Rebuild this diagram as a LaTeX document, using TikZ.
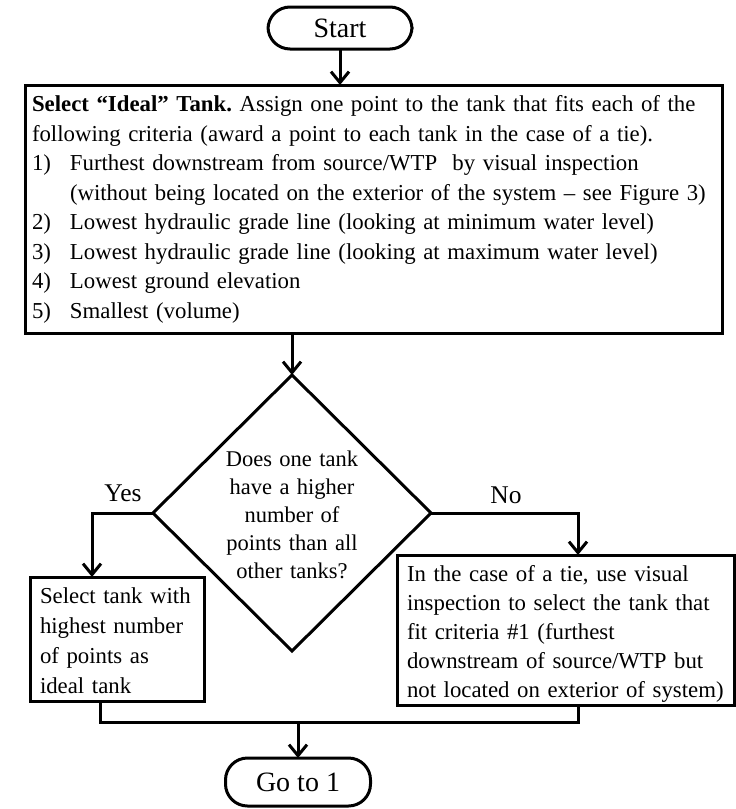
\documentclass[tikz,border=0pt]{standalone}
\usepackage{fontspec}
\setmainfont{Liberation Serif}
\usetikzlibrary{arrows.meta,shapes.geometric}
\frenchspacing
\begin{document}
\begin{tikzpicture}[x=1pt,y=-1pt,
  every node/.style={inner sep=0pt,outer sep=0pt},
  flowline/.style={line width=3pt},
  flowarrow/.style={flowline,-{Straight Barb[length=11pt,width=18pt]}},
  terminal/.style={draw,line width=3pt,rounded corners=22pt,minimum width=144pt,
    font=\fontsize{28}{32}\selectfont},
  framebox/.style={draw,line width=3pt,anchor=north west},
  boxtext/.style={anchor=north west,align=left},
  decision/.style={draw,line width=3pt,diamond,aspect=1},
  branchlabel/.style={font=\fontsize{25.5}{30}\selectfont}]
\useasboundingbox (0,0) rectangle (736,809);

% start terminal
\node[terminal,minimum height=42pt] (start) at (340,28) {Start};

% scoring box: frame and its text
\node[framebox,minimum width=697pt,minimum height=248pt] (select) at (25,85) {};
\node[boxtext,text width=700pt,font=\fontsize{22.8}{29.5}\selectfont] (selecttext) at (32,90.85) {%
  \strut\textbf{Select “Ideal” Tank.} Assign one point to the tank that fits each of the\\
  following criteria (award a point to each tank in the case of a tie).\\
  \makebox[38pt][l]{1)}Furthest downstream from source/WTP\ \ by visual inspection\\
  \hspace*{38pt}(without being located on the exterior of the system -- see Figure 3)\\
  \makebox[38pt][l]{2)}Lowest hydraulic grade line (looking at minimum water level)\\
  \makebox[38pt][l]{3)}Lowest hydraulic grade line (looking at maximum water level)\\
  \makebox[38pt][l]{4)}Lowest ground elevation\\
  \makebox[38pt][l]{5)}Smallest (volume)};

% decision
\node[decision,minimum width=278pt,minimum height=276pt] (dec) at (292,513) {};
\node[anchor=north,align=center,text width=180pt,font=\fontsize{22.5}{27.8}\selectfont]
  (dectext) at (292,447.5)
  {\strut Does one tank\\have a higher\\number of\\points than all\\other tanks?};

% outcome boxes
\node[framebox,minimum width=174pt,minimum height=124pt] (yesbox) at (30,577) {};
\node[boxtext,text width=170pt,font=\fontsize{22.8}{30}\selectfont] (yestext) at (40,582)
  {\strut Select tank with\\highest number\\of points as\\ideal tank};

\node[framebox,minimum width=337pt,minimum height=150pt] (nobox) at (397,555) {};
\node[boxtext,text width=330pt,font=\fontsize{22.8}{29}\selectfont] (notext) at (407,560.7)
  {\strut In the case of a tie, use visual\\inspection to select the tank that\\fit criteria \#1 (furthest\\downstream of source/WTP but\\not located on exterior of system)};

% end terminal
\node[terminal,minimum height=48pt,minimum width=145pt] (goto) at (298,782) {Go to 1};

% branch labels
\node[branchlabel] (yeslabel) at (123,493) {Yes};
\node[branchlabel] (nolabel) at (506,495) {No};

% connectors
\coordinate (yesturn) at (92,513);
\coordinate (noturn) at (578,513);
\coordinate (joinL) at (100,722);
\coordinate (joinR) at (578,722);

\draw[flowarrow] (start.south) -- (start.south |- select.north);
\draw[flowarrow] (select.south -| dec.north) -- (dec.north);
\draw[flowarrow] (dec.west) -- (yesturn) -- (yesturn |- yesbox.north);
\draw[flowarrow] (dec.east) -- (noturn) -- (noturn |- nobox.north);
\draw[flowline] (joinL |- yesbox.south) -- (joinL) -- (joinR) -- (joinR |- nobox.south);
\draw[flowarrow] (joinL -| goto.north) -- (goto.north);
\end{tikzpicture}
\end{document}
